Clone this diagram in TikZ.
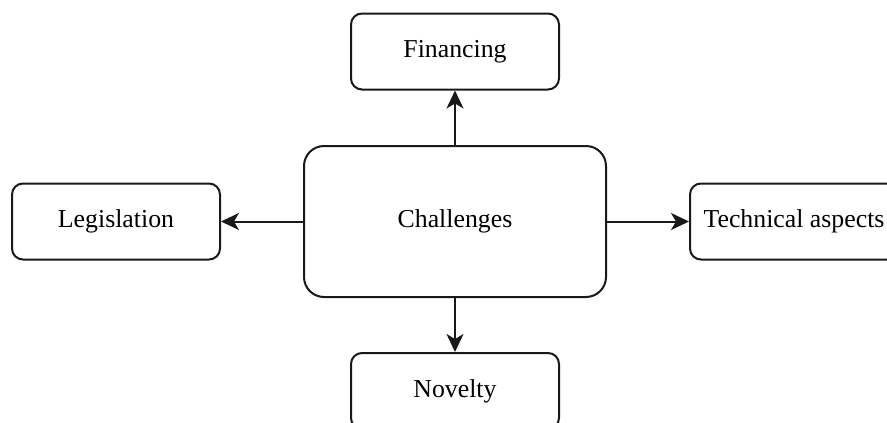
\documentclass[tikz,border=0pt]{standalone}
\usepackage{fontspec}
\setmainfont{Liberation Serif}
\usetikzlibrary{arrows.meta}
\begin{document}
\begin{tikzpicture}[x=1pt,y=-1pt,
  box/.style={draw=black!90, line width=2pt, rounded corners=11pt, fill=white,
    minimum width=208pt, minimum height=76pt, inner sep=0pt,
    font=\fontsize{25.8}{30}\selectfont},
  hub/.style={box, rounded corners=20pt, minimum width=302pt, minimum height=151pt},
  link/.style={draw=black!90, line width=2pt,
    -{Stealth[length=18pt,width=17pt,inset=5pt]}}]
  \useasboundingbox (0,0) rectangle (887,423);
  \clip (0,0) rectangle (887,423);
  \node[hub] (ch) at (455,221.5) {Challenges};
  \node[box] (fin) at (455,51.5) {Financing};
  \node[box] (nov) at (455,391) {Novelty};
  \node[box] (leg) at (116,221.5) {Legislation};
  \node[box] (tech) at (794,221.5) {Technical aspects};
  \draw[link] (ch.north) -- (fin.south);
  \draw[link] (ch.south) -- (nov.north);
  \draw[link] (ch.west) -- (leg.east);
  \draw[link] (ch.east) -- (tech.west);
\end{tikzpicture}
\end{document}
